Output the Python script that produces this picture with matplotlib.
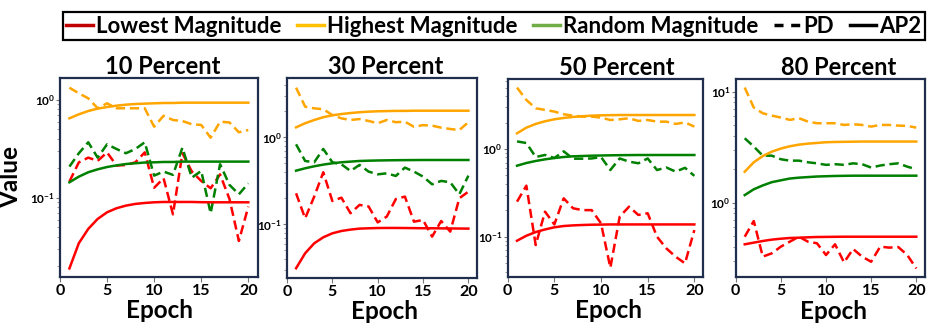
import numpy as np
import matplotlib
matplotlib.use('Agg')
import matplotlib.pyplot as plt
from matplotlib.lines import Line2D

plt.rcParams['font.family'] = ['Lato', 'DejaVu Sans']
plt.rcParams['font.weight'] = 'bold'
plt.rcParams['mathtext.fontset'] = 'dejavuserif'
plt.rcParams['mathtext.default'] = 'bf'

# ---------------- data ----------------
epochs = np.arange(1, 21)
xticks = [0, 5, 10, 15, 20]
titles = ["10 Percent", "30 Percent", "50 Percent", "80 Percent"]
legend_labels = ["Lowest Magnitude", "Highest Magnitude", "Random Magnitude", "PD", "AP2"]

# 10 percent
low_pd_10 = [0.147, 0.231, 0.258, 0.239, 0.292, 0.214, 0.217, 0.231, 0.292, 0.127,
             0.159, 0.068, 0.286, 0.186, 0.149, 0.1255, 0.174, 0.0977, 0.0364, 0.0816]
high_pd_10 = [1.335, 1.17, 1.04, 0.823, 0.925, 0.823, 0.823, 0.823, 0.823, 0.534,
              0.69, 0.625, 0.61, 0.565, 0.556, 0.412, 0.60, 0.59, 0.468, 0.494]
rand_pd_10 = [0.209, 0.286, 0.370, 0.258, 0.353, 0.316, 0.286, 0.316, 0.370, 0.169,
              0.186, 0.172, 0.326, 0.161, 0.189, 0.0698, 0.221, 0.136, 0.109, 0.141]
low_ap2_10 = [0.0191, 0.0345, 0.0483, 0.0611, 0.0714, 0.0785, 0.0835, 0.0869, 0.0889, 0.0903,
              0.091, 0.091, 0.091, 0.091, 0.0905, 0.0903, 0.0903, 0.0903, 0.0903, 0.0903]
high_ap2_10 = [0.650, 0.714, 0.772, 0.816, 0.848, 0.875, 0.896, 0.910, 0.918, 0.925,
               0.932, 0.932, 0.939, 0.939, 0.939, 0.939, 0.939, 0.939, 0.939, 0.939]
rand_ap2_10 = [0.1445, 0.165, 0.183, 0.196, 0.207, 0.215, 0.222, 0.226, 0.230, 0.231,
               0.233, 0.233, 0.235, 0.235, 0.235, 0.235, 0.235, 0.235, 0.235, 0.235]

# 30 percent
low_pd_30 = [0.227, 0.117, 0.208, 0.396, 0.185, 0.202, 0.134, 0.167, 0.160, 0.105,
             0.1225, 0.195, 0.208, 0.107, 0.112, 0.0721, 0.109, 0.0823, 0.199, 0.237]
high_pd_30 = [3.72, 2.25, 2.15, 2.10, 1.80, 1.65, 1.58, 1.62, 1.54, 1.45,
              1.58, 1.49, 1.51, 1.32, 1.38, 1.36, 1.29, 1.245, 1.21, 1.49]
rand_pd_30 = [0.830, 0.534, 0.516, 0.734, 0.516, 0.489, 0.410, 0.481, 0.403, 0.375,
              0.385, 0.359, 0.448, 0.403, 0.353, 0.288, 0.315, 0.304, 0.221, 0.362]
low_ap2_30 = [0.0312, 0.0464, 0.0604, 0.0708, 0.0787, 0.0837, 0.0868, 0.0891, 0.0899, 0.0905,
              0.0907, 0.0907, 0.0905, 0.0903, 0.0900, 0.0899, 0.0897, 0.0895, 0.0893, 0.0891]
high_ap2_30 = [1.30, 1.45, 1.58, 1.70, 1.79, 1.85, 1.90, 1.94, 1.97, 1.99,
               2.00, 2.01, 2.01, 2.02, 2.02, 2.02, 2.02, 2.02, 2.02, 2.02]
rand_ap2_30 = [0.413, 0.440, 0.464, 0.485, 0.502, 0.516, 0.525, 0.534, 0.538, 0.541,
               0.543, 0.545, 0.546, 0.547, 0.548, 0.548, 0.548, 0.548, 0.548, 0.548]

# 50 percent
low_pd_50 = [0.251, 0.382, 0.0804, 0.193, 0.138, 0.274, 0.211, 0.201, 0.201, 0.142,
             0.0443, 0.169, 0.220, 0.177, 0.185, 0.100, 0.0736, 0.0591, 0.0497, 0.119]
high_pd_50 = [5.01, 3.62, 2.91, 2.79, 2.67, 2.49, 2.40, 2.34, 2.34, 2.28,
              2.14, 2.18, 2.24, 2.09, 2.14, 2.05, 2.05, 1.93, 2.01, 1.80]
rand_pd_50 = [1.22, 1.17, 0.81, 0.855, 0.79, 0.94, 0.775, 0.775, 0.78, 0.81,
              0.576, 0.78, 0.718, 0.687, 0.78, 0.576, 0.615, 0.552, 0.61, 0.494]
low_ap2_50 = [0.090, 0.1026, 0.113, 0.121, 0.128, 0.1324, 0.1346, 0.136, 0.137, 0.1375,
              0.138, 0.138, 0.138, 0.138, 0.138, 0.138, 0.138, 0.138, 0.138, 0.138]
high_ap2_50 = [1.51, 1.75, 1.93, 2.07, 2.18, 2.26, 2.32, 2.36, 2.40, 2.42,
               2.43, 2.44, 2.44, 2.44, 2.44, 2.44, 2.44, 2.44, 2.44, 2.44]
rand_ap2_50 = [0.645, 0.692, 0.730, 0.762, 0.789, 0.810, 0.825, 0.832, 0.839, 0.843,
               0.847, 0.850, 0.852, 0.854, 0.854, 0.854, 0.854, 0.854, 0.854, 0.854]

# 80 percent
low_pd_80 = [0.494, 0.684, 0.327, 0.350, 0.402, 0.446, 0.494, 0.446, 0.431, 0.338,
             0.422, 0.290, 0.383, 0.327, 0.294, 0.402, 0.394, 0.399, 0.338, 0.256]
high_pd_80 = [10.87, 7.18, 6.38, 6.08, 5.84, 5.56, 5.76, 5.37, 5.19, 5.19,
              5.19, 5.01, 5.08, 5.01, 4.84, 5.01, 5.01, 4.94, 4.91, 4.74]
rand_pd_80 = [3.80, 3.20, 2.65, 2.65, 2.46, 2.39, 2.39, 2.31, 2.26, 2.19,
              2.22, 2.19, 2.26, 2.22, 2.07, 2.16, 2.22, 2.26, 2.11, 2.00]
low_ap2_80 = [0.422, 0.437, 0.452, 0.465, 0.474, 0.481, 0.484, 0.488, 0.491, 0.492,
              0.493, 0.494, 0.494, 0.494, 0.494, 0.494, 0.494, 0.494, 0.494, 0.494]
high_ap2_80 = [1.90, 2.31, 2.63, 2.88, 3.07, 3.22, 3.33, 3.40, 3.45, 3.50,
               3.52, 3.53, 3.54, 3.55, 3.55, 3.55, 3.55, 3.55, 3.55, 3.55]
rand_ap2_80 = [1.17, 1.32, 1.43, 1.53, 1.59, 1.65, 1.68, 1.70, 1.72, 1.73,
               1.74, 1.745, 1.75, 1.75, 1.75, 1.75, 1.75, 1.75, 1.75, 1.75]

panel_data = [
    (low_pd_10, high_pd_10, rand_pd_10, low_ap2_10, high_ap2_10, rand_ap2_10),
    (low_pd_30, high_pd_30, rand_pd_30, low_ap2_30, high_ap2_30, rand_ap2_30),
    (low_pd_50, high_pd_50, rand_pd_50, low_ap2_50, high_ap2_50, rand_ap2_50),
    (low_pd_80, high_pd_80, rand_pd_80, low_ap2_80, high_ap2_80, rand_ap2_80),
]

# ---------------- layout ----------------
W, H = 938, 329
fig = plt.figure(figsize=(W / 100, H / 100), dpi=100)

# axes boxes in pixels: left, right, top, bottom
boxes = [(60, 258, 78, 277), (287, 477, 77.7, 277.7),
         (507.7, 703.3, 79.3, 276.7), (735.7, 924.7, 79.3, 277.3)]
xlims = [(0.046, 21.03), (0.12, 20.95), (0.04, 20.96), (0.085, 20.93)]
ylims = [(0.0156, 1.677), (0.0243, 4.84), (0.035, 6.23), (0.213, 12.9)]
title_x = [0.52, 0.52, 0.56, 0.545]
xlabel_x = [0.5, 0.515, 0.515, 0.515]

line_colors = ['red', 'orange', 'green']
spine_color = '#1f2e4d'

for i, (box, data) in enumerate(zip(boxes, panel_data)):
    l, r, t, b = box
    ax = fig.add_axes([l / W, 1 - b / H, (r - l) / W, (b - t) / H])
    pd_series = data[:3]
    ap2_series = data[3:]
    for s, c in zip(pd_series, line_colors):
        ax.plot(epochs, s, color=c, ls=(0, (3.7, 1.9)), lw=1.8)
    for s, c in zip(ap2_series, line_colors):
        ax.plot(epochs, s, color=c, ls='-', lw=1.8)
    ax.set_yscale('log')
    ax.set_xlim(*xlims[i])
    ax.set_ylim(*ylims[i])
    ax.set_xticks(xticks)
    ax.set_xticklabels([str(v) for v in xticks], fontsize=11.5, fontweight='bold')
    for sp in ax.spines.values():
        sp.set_color(spine_color)
        sp.set_linewidth(1.6)
    ax.tick_params(axis='x', which='major', length=3.5, width=0.8, color='#777777',
                   pad=1.5, labelsize=11.5)
    ax.tick_params(axis='y', which='major', length=3, width=0.8, color='#777777',
                   pad=0.5, labelsize=8.5)
    ax.tick_params(axis='y', which='minor', length=2, width=0.6, color='#888888')
    ax.set_title(titles[i], fontsize=17, fontweight='bold', pad=2, x=title_x[i])
    ax.set_xlabel('Epoch', fontsize=17.5, fontweight='bold', labelpad=1, x=xlabel_x[i])
    if i == 0:
        ax.set_ylabel('Value', fontsize=17.5, fontweight='bold')
        ax.yaxis.set_label_coords(-0.19, 0.5)

# ---------------- legend ----------------
handles = [
    Line2D([], [], color='#c00000', lw=2.5),
    Line2D([], [], color='#ffc000', lw=2.5),
    Line2D([], [], color='#70ad47', lw=2.5),
    Line2D([], [], color='black', lw=2.5, ls=(0, (2.6, 2.2))),
    Line2D([], [], color='black', lw=2.5),
]
leg = fig.legend(handles, legend_labels, ncol=5, loc='center', mode='expand',
                 bbox_to_anchor=(63 / W, 1 - 43 / H, 862 / W, 33.5 / H),
                 prop={'family': ['Lato', 'DejaVu Sans'], 'weight': 'bold', 'size': 16},
                 frameon=True, fancybox=False, framealpha=1, edgecolor='black',
                 handlelength=1.2, handletextpad=0.15, columnspacing=0.6,
                 borderpad=0.15, borderaxespad=0)
leg.get_frame().set_linewidth(1.6)

fig.savefig('out.png', dpi=100)
